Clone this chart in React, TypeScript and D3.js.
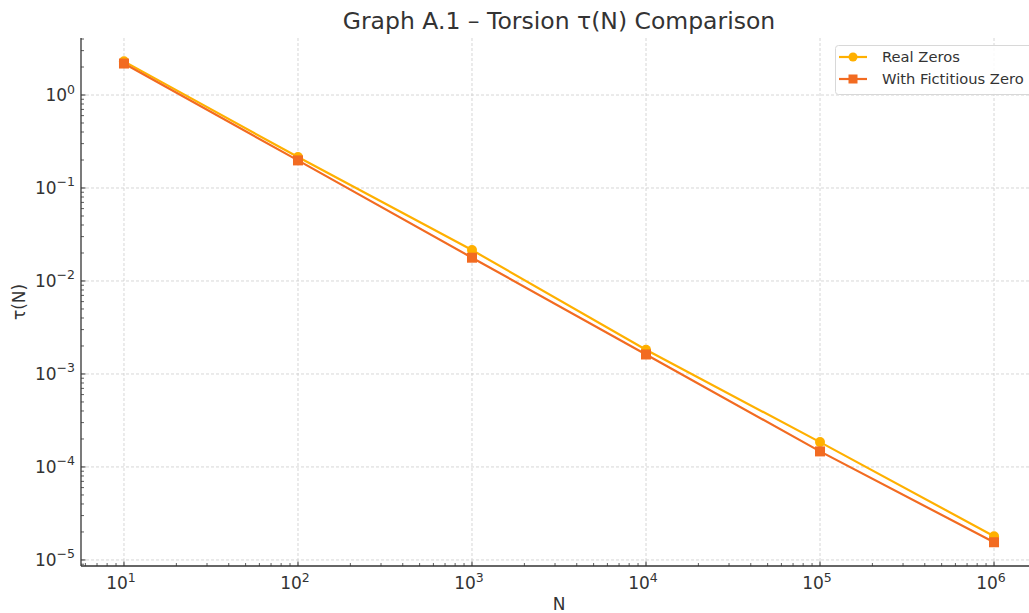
import React from "react";
import * as d3 from "d3";

const nValues = [1e1, 1e2, 1e3, 1e4, 1e5, 1e6];
const realZeros = [2.3, 0.215, 0.0215, 0.00182, 0.000185, 1.8e-5];
const fictitiousZero = [2.18, 0.198, 0.0178, 0.00162, 0.000147, 1.55e-5];
const seriesNames = ["Real Zeros", "With Fictitious Zero"];
const xTickExps = [1, 2, 3, 4, 5, 6];
const yTickExps = [0, -1, -2, -3, -4, -5];

const W = 1029;
const H = 613;
const left = 81;
const right = 1029;
const top = 38;
const bottom = 566;

const REAL = "#ffb000";
const FICT = "#f26b21";
const TXT = "#333333";
const FONT = "DejaVu Sans, sans-serif";

export default function App() {
  const x = d3.scaleLog().domain([Math.pow(10, 0.753), Math.pow(10, 6.201)]).range([left, right]);
  const y = d3.scaleLog().domain([Math.pow(10, -5.065), Math.pow(10, 0.613)]).range([bottom, top]);

  const line = d3
    .line<[number, number]>()
    .x((d) => x(d[0]))
    .y((d) => y(d[1]));

  const realPts = nValues.map((n, i) => [n, realZeros[i]] as [number, number]);
  const fictPts = nValues.map((n, i) => [n, fictitiousZero[i]] as [number, number]);

  const xMinor: number[] = [];
  for (let e = 0; e <= 6; e++) for (let k = 2; k <= 9; k++) {
    const v = k * Math.pow(10, e);
    if (x(v) >= left && x(v) <= right) xMinor.push(v);
  }
  const yMinor: number[] = [];
  for (let e = -6; e <= 0; e++) for (let k = 2; k <= 9; k++) {
    const v = k * Math.pow(10, e);
    if (y(v) >= top && y(v) <= bottom) yMinor.push(v);
  }

  return (
    <svg width={W} height={H} style={{ position: "absolute", left: 0, top: 0, display: "block", background: "#fff" }} fontFamily={FONT}>
      <text x={559} y={29} textAnchor="middle" fontSize={23.5} fill={TXT}>
        Graph A.1 – Torsion τ(N) Comparison
      </text>

      {/* grid */}
      {xTickExps.map((e) => (
        <line key={"gx" + e} x1={x(Math.pow(10, e))} x2={x(Math.pow(10, e))} y1={top} y2={bottom} stroke="#cccccc" strokeWidth={0.8} strokeDasharray="3,2" />
      ))}
      {yTickExps.map((e) => (
        <line key={"gy" + e} x1={left} x2={right} y1={y(Math.pow(10, e))} y2={y(Math.pow(10, e))} stroke="#cccccc" strokeWidth={0.8} strokeDasharray="3,2" />
      ))}

      {/* minor ticks */}
      {xMinor.map((v, i) => (
        <line key={"xm" + i} x1={x(v)} x2={x(v)} y1={bottom} y2={bottom - 3} stroke={TXT} strokeWidth={0.8} />
      ))}
      {yMinor.map((v, i) => (
        <line key={"ym" + i} x1={left} x2={left + 3} y1={y(v)} y2={y(v)} stroke={TXT} strokeWidth={0.8} />
      ))}
      {/* major ticks */}
      {xTickExps.map((e) => (
        <g key={"xt" + e}>
          <line x1={x(Math.pow(10, e))} x2={x(Math.pow(10, e))} y1={bottom} y2={bottom - 4.5} stroke={TXT} strokeWidth={1} />
          <text x={x(Math.pow(10, e)) - 3} y={589} textAnchor="middle" fontSize={17} fill={TXT}>
            10
            <tspan dy={-7.5} fontSize={12.5}>{e}</tspan>
          </text>
        </g>
      ))}
      {yTickExps.map((e) => (
        <g key={"yt" + e}>
          <line x1={left} x2={left + 4.5} y1={y(Math.pow(10, e))} y2={y(Math.pow(10, e))} stroke={TXT} strokeWidth={1} />
          <text x={75} y={y(Math.pow(10, e)) + 6} textAnchor="end" fontSize={17} fill={TXT}>
            10
            <tspan dy={-7.5} fontSize={12.5}>{e < 0 ? "−" + Math.abs(e) : String(e)}</tspan>
          </text>
        </g>
      ))}

      {/* spines */}
      <line x1={left} x2={left} y1={top} y2={bottom} stroke={TXT} strokeWidth={1.3} />
      <line x1={left} x2={right} y1={bottom} y2={bottom} stroke={TXT} strokeWidth={1.3} />

      {/* axis labels */}
      <text x={559} y={610} textAnchor="middle" fontSize={17} fill={TXT}>N</text>
      <text transform={`translate(25,302) rotate(-90)`} textAnchor="middle" fontSize={17} fill={TXT}>τ(N)</text>

      {/* series */}
      <path d={line(realPts) || ""} fill="none" stroke={REAL} strokeWidth={2.2} />
      {realPts.map((p, i) => (
        <circle key={"rc" + i} cx={x(p[0])} cy={y(p[1])} r={5} fill={REAL} />
      ))}
      <path d={line(fictPts) || ""} fill="none" stroke={FICT} strokeWidth={2.2} />
      {fictPts.map((p, i) => (
        <rect key={"fr" + i} x={x(p[0]) - 5} y={y(p[1]) - 5} width={10} height={10} fill={FICT} />
      ))}

      {/* legend */}
      <rect x={835.5} y={45.5} width={200} height={49} rx={3} fill="#ffffff" fillOpacity={0.85} stroke="#d8d8d8" strokeWidth={1} />
      <line x1={839} x2={867} y1={57} y2={57} stroke={REAL} strokeWidth={2.2} />
      <circle cx={853} cy={57} r={4.5} fill={REAL} />
      <text x={882} y={62} fontSize={14.7} fill={TXT}>{seriesNames[0]}</text>
      <line x1={839} x2={867} y1={79} y2={79} stroke={FICT} strokeWidth={2.2} />
      <rect x={848.5} y={74.5} width={9} height={9} fill={FICT} />
      <text x={882} y={84} fontSize={14.7} fill={TXT}>{seriesNames[1]}</text>
    </svg>
  );
}
